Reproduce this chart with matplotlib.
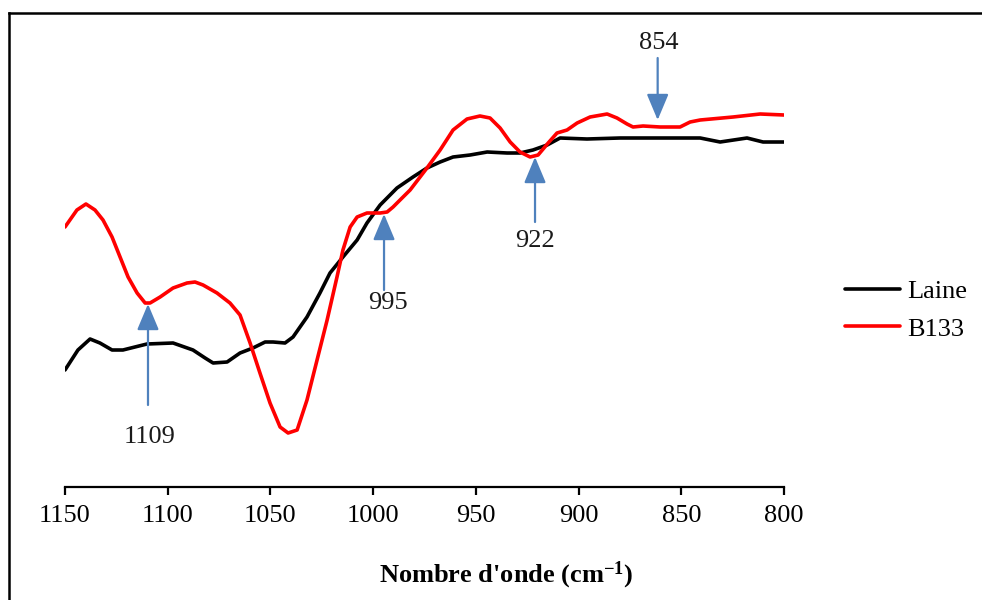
import matplotlib
matplotlib.use("Agg")
import matplotlib.pyplot as plt
from matplotlib.lines import Line2D

plt.rcParams['font.family'] = ['Liberation Serif', 'DejaVu Serif']
plt.rcParams['mathtext.fontset'] = 'custom'
plt.rcParams['mathtext.rm'] = 'Liberation Serif'
plt.rcParams['mathtext.default'] = 'regular'

# Laine (black)
laine_x = [1150, 1143.7, 1137.8, 1133, 1127.1, 1121.8, 1110.1, 1097.4, 1087.7, 1081.8,
           1077.9, 1071.1, 1064.8, 1058.5, 1052.6, 1048.7, 1042.9, 1039.0, 1032.2, 1025.9,
           1021.0, 1014.7, 1007.8, 1003.0, 996.6, 988.4, 980.6, 973.8, 967.4, 961.1,
           952.8, 944.5, 934.8, 928.5, 922.2, 915.3, 909.0, 895.9, 879.8, 840.8,
           831.1, 818.0, 810.2, 800]
laine_y = [1.17, 1.37, 1.48, 1.44, 1.37, 1.37, 1.43, 1.44, 1.37, 1.29,
           1.24, 1.25, 1.34, 1.39, 1.45, 1.45, 1.44, 1.50, 1.70, 1.94,
           2.14, 2.30, 2.47, 2.64, 2.82, 2.99, 3.10, 3.19, 3.25, 3.30,
           3.32, 3.35, 3.34, 3.34, 3.37, 3.42, 3.49, 3.48, 3.49, 3.49,
           3.45, 3.49, 3.45, 3.45]

# B133 (red)
b133_x = [1150, 1144.2, 1139.8, 1135.4, 1131.5, 1127.1, 1123.2, 1119.3, 1114.9, 1111.0,
          1108.6, 1103.7, 1097.4, 1090.6, 1086.7, 1082.8, 1076.0, 1069.7, 1064.8, 1059.9,
          1055.1, 1050.2, 1045.3, 1041.4, 1037.0, 1032.2, 1027.3, 1022.4, 1017.6, 1014.7,
          1011.2, 1007.8, 1003.0, 996.6, 993.2, 990.3, 986.9, 982.0, 973.8, 967.4,
          961.1, 954.3, 948.0, 943.1, 938.2, 933.3, 928.5, 923.6, 919.7, 914.8,
          910.5, 905.6, 900.7, 894.4, 886.1, 881.3, 876.4, 873.5, 868.6, 860.3,
          850.6, 845.7, 840.8, 824.8, 811.6, 800]
b133_y = [2.60, 2.77, 2.83, 2.77, 2.67, 2.50, 2.30, 2.10, 1.94, 1.84,
          1.84, 1.90, 1.99, 2.04, 2.05, 2.02, 1.94, 1.84, 1.72, 1.44,
          1.14, 0.84, 0.60, 0.54, 0.57, 0.87, 1.27, 1.67, 2.10, 2.37,
          2.60, 2.70, 2.74, 2.74, 2.75, 2.80, 2.87, 2.97, 3.19, 3.37,
          3.57, 3.68, 3.71, 3.69, 3.59, 3.45, 3.35, 3.30, 3.32, 3.44,
          3.54, 3.57, 3.64, 3.70, 3.73, 3.69, 3.63, 3.60, 3.61, 3.60,
          3.60, 3.65, 3.67, 3.70, 3.73, 3.72]

# Annotations: label, arrow x, arrow tip y, arrow tail y, label position
ann_labels = ['1109', '995', '922', '854']
ann_x = [1109.6, 994.7, 921.2, 861.5]
ann_tip = [1.83, 2.73, 3.30, 3.67]
ann_tail = [0.82, 1.97, 2.65, 4.29]
ann_text_x = [1108.6, 992.7, 921.2, 861.0]
ann_text_y = [0.50, 1.84, 2.46, 4.44]

tick_vals = [1150, 1100, 1050, 1000, 950, 900, 850, 800]

fig = plt.figure(figsize=(9.82, 6.0), dpi=100)
ax = fig.add_axes([65/982, (600-487)/600, 719/982, 460/600])

ax.plot(laine_x, laine_y, color='black', lw=2.6, label='Laine',
        solid_joinstyle='round', solid_capstyle='round')
ax.plot(b133_x, b133_y, color='#FF0000', lw=2.6, label='B133',
        solid_joinstyle='round', solid_capstyle='round')

blue = '#4F81BD'
for lab, x, tip, tail, tx, ty in zip(ann_labels, ann_x, ann_tip, ann_tail, ann_text_x, ann_text_y):
    ax.annotate('', xy=(x, tip), xytext=(x, tail),
                arrowprops=dict(arrowstyle='-|>,head_length=1.0,head_width=0.42',
                                color=blue, lw=1.6, mutation_scale=16,
                                shrinkA=0, shrinkB=0))
    ax.text(tx, ty, lab, ha='center', va='center', fontsize=19, color='#1a1a1a')

ax.set_xlim(1150, 800)
ax.set_ylim(0, 4.6)
ax.set_xticks(tick_vals)
ax.set_xticklabels([str(v) for v in tick_vals])
ax.set_yticks([])
for s in ['left', 'right', 'top']:
    ax.spines[s].set_visible(False)
ax.spines['bottom'].set_linewidth(1.6)
ax.tick_params(axis='x', direction='out', length=6, width=1.6, pad=7, labelsize=19)

ax.set_xlabel("Nombre d'onde (cm$^{-1}$)", fontsize=19, fontweight='bold')
ax.xaxis.set_label_coords((506-65)/719, (487-560)/460)

ax.legend(loc='center left', bbox_to_anchor=(845/982, 1-310/600),
          bbox_transform=fig.transFigure, frameon=False, fontsize=19,
          handlelength=2.1, handletextpad=0.25, labelspacing=0.55,
          borderpad=0, borderaxespad=0)

fig.add_artist(Line2D([9/982, 1], [1-13/600, 1-13/600], transform=fig.transFigure,
                      color='black', lw=1.8))
fig.add_artist(Line2D([9/982, 9/982], [0, 1-13/600], transform=fig.transFigure,
                      color='black', lw=1.8))

fig.savefig('out.png', dpi=100, facecolor='white')
